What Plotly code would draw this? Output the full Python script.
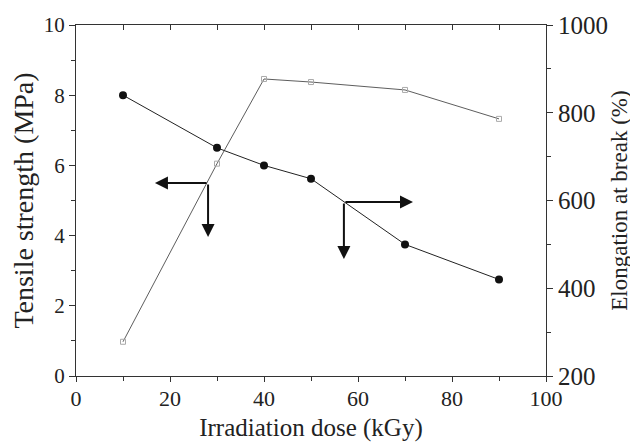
import plotly.graph_objects as go

dose = [10, 30, 40, 50, 70, 90]
tensile = [8.0, 6.5, 6.0, 5.62, 3.75, 2.75]
elong_dose = [10, 30, 40, 50, 70, 90]
elongation = [278, 684, 877, 870, 852, 786]

x_ticks = [0, 20, 40, 60, 80, 100]
y_ticks = [0, 2, 4, 6, 8, 10]
y2_ticks = [200, 400, 600, 800, 1000]

FONT = "Liberation Serif"

fig = go.Figure()
fig.add_trace(go.Scatter(
    x=dose, y=tensile, mode="lines+markers",
    line=dict(color="#222", width=1),
    marker=dict(symbol="circle", size=8, color="#111"),
    showlegend=False, cliponaxis=False))
fig.add_trace(go.Scatter(
    x=elong_dose, y=elongation, mode="lines+markers", yaxis="y2",
    line=dict(color="#333", width=0.8),
    marker=dict(symbol="square-open", size=5, color="#aaa", line=dict(width=1)),
    showlegend=False, cliponaxis=False))
# dummy trace for top axis
fig.add_trace(go.Scatter(x=[0], y=[0], xaxis="x2", mode="markers",
                         marker=dict(opacity=0), showlegend=False, hoverinfo="skip"))

common = dict(showgrid=False, zeroline=False, linecolor="#333", linewidth=1.2,
              tickcolor="#333", automargin=False)

fig.update_layout(
    width=638, height=442,
    margin=dict(l=68, r=100, t=17, b=74),
    paper_bgcolor="white", plot_bgcolor="white",
    font=dict(family=FONT, color="#222"),
    xaxis=dict(range=[0, 100], tickvals=x_ticks, ticks="outside", ticklen=5,
               minor=dict(dtick=10, ticks="outside", ticklen=4, tickcolor="#333"),
               tickfont=dict(family=FONT, size=22, color="#222"), ticklabelstandoff=-3,
               title=dict(text="Irradiation dose (kGy)", font=dict(family=FONT, size=25), standoff=8),
               **common),
    xaxis2=dict(range=[0, 100], overlaying="x", side="top", tickvals=[10, 20, 30, 40, 50, 60, 70, 80, 90],
                ticks="inside", ticklen=5, showticklabels=False, showline=True,
                showgrid=False, zeroline=False, linecolor="#333", linewidth=1.2, tickcolor="#333",
                automargin=False),
    yaxis=dict(range=[0, 10], tickvals=y_ticks, ticks="outside", ticklen=6,
               minor=dict(dtick=1, ticks="outside", ticklen=4, tickcolor="#333"),
               tickfont=dict(family=FONT, size=21, color="#222"),
               title=dict(text="Tensile strength (MPa)", font=dict(family=FONT, size=28), standoff=7),
               **common),
    yaxis2=dict(range=[200, 1000], tickvals=y2_ticks, overlaying="y", side="right",
                ticks="outside", ticklen=6, showline=True,
                minor=dict(dtick=100, ticks="outside", ticklen=4, tickcolor="#333"),
                showgrid=False, zeroline=False, linecolor="#333", linewidth=1.2, tickcolor="#333",
                automargin=False,
                tickfont=dict(family=FONT, size=25, color="#222"),
                title=dict(text="Elongation at break (%)", font=dict(family=FONT, size=23), standoff=3)),
)

arrow = dict(xref="x", yref="y", axref="x", ayref="y", text="", showarrow=True,
             arrowhead=2, arrowsize=1.3, arrowwidth=2, arrowcolor="#111")
fig.add_annotation(x=16.8, y=5.5, ax=28.1, ay=5.5, **arrow)
fig.add_annotation(x=28.1, y=3.96, ax=28.1, ay=5.5, **arrow)
fig.add_annotation(x=71.7, y=4.96, ax=57.0, ay=4.96, **arrow)
fig.add_annotation(x=57.0, y=3.33, ax=57.0, ay=4.96, **arrow)

fig.write_html("out.html")
